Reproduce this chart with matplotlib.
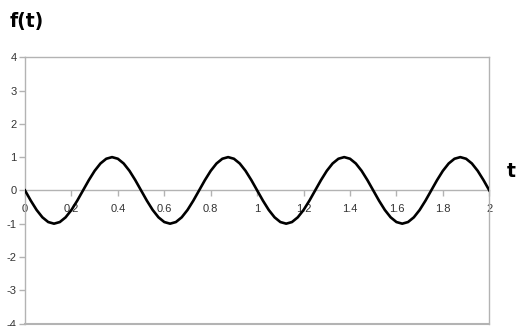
import matplotlib
matplotlib.use("Agg")
import matplotlib.pyplot as plt

plt.rcParams["axes.unicode_minus"] = False

t_values = [i * 0.025 for i in range(81)]
f_values = [
    0.0, -0.309, -0.588, -0.809, -0.951, -1.0, -0.951, -0.809, -0.588, -0.309,
    0.0, 0.309, 0.588, 0.809, 0.951, 1.0, 0.951, 0.809, 0.588, 0.309,
    0.0, -0.309, -0.588, -0.809, -0.951, -1.0, -0.951, -0.809, -0.588, -0.309,
    0.0, 0.309, 0.588, 0.809, 0.951, 1.0, 0.951, 0.809, 0.588, 0.309,
    0.0, -0.309, -0.588, -0.809, -0.951, -1.0, -0.951, -0.809, -0.588, -0.309,
    0.0, 0.309, 0.588, 0.809, 0.951, 1.0, 0.951, 0.809, 0.588, 0.309,
    0.0, -0.309, -0.588, -0.809, -0.951, -1.0, -0.951, -0.809, -0.588, -0.309,
    0.0, 0.309, 0.588, 0.809, 0.951, 1.0, 0.951, 0.809, 0.588, 0.309,
    0.0,
]
x_ticks = [0, 0.2, 0.4, 0.6, 0.8, 1, 1.2, 1.4, 1.6, 1.8, 2]
x_tick_labels = ["0", "0.2", "0.4", "0.6", "0.8", "1", "1.2", "1.4", "1.6", "1.8", "2"]
y_ticks = [-4, -3, -2, -1, 0, 1, 2, 3, 4]

grey = "#b3b3b3"

fig = plt.figure(figsize=(5.17, 3.26), dpi=100)
ax = fig.add_axes([25 / 517, 1 - 323.5 / 326, (489.3 - 25) / 517, (323.5 - 57.3) / 326])

ax.plot(t_values, f_values, color="black", linewidth=1.9, zorder=5)

ax.set_xlim(0, 2)
ax.set_ylim(-4, 4)

for side in ["left", "right", "top"]:
    ax.spines[side].set_color(grey)
    ax.spines[side].set_linewidth(1.0)
ax.spines["bottom"].set_position(("data", 0))
ax.spines["bottom"].set_color(grey)
ax.spines["bottom"].set_linewidth(1.0)
# bottom frame line
ax.axhline(-4, color=grey, linewidth=1.5, clip_on=False)

ax.set_xticks(x_ticks)
ax.set_xticklabels(x_tick_labels)
ax.set_yticks(y_ticks)
ax.tick_params(axis="both", color=grey, length=4, width=1.0, labelcolor="#333333",
               labelsize=8)
ax.tick_params(axis="x", pad=6)
ax.tick_params(axis="y", pad=2)
for lbl in ax.get_xticklabels() + ax.get_yticklabels():
    lbl.set_family("Liberation Sans")

fig.text(10 / 517, 1 - 22 / 326, "f(t)", fontsize=13.5, fontweight="bold",
         ha="left", va="center", family="DejaVu Sans")
fig.text(511 / 517, 1 - 172 / 326, "t", fontsize=13.5, fontweight="bold",
         ha="center", va="center", family="DejaVu Sans")

fig.savefig("out.png", dpi=100)
